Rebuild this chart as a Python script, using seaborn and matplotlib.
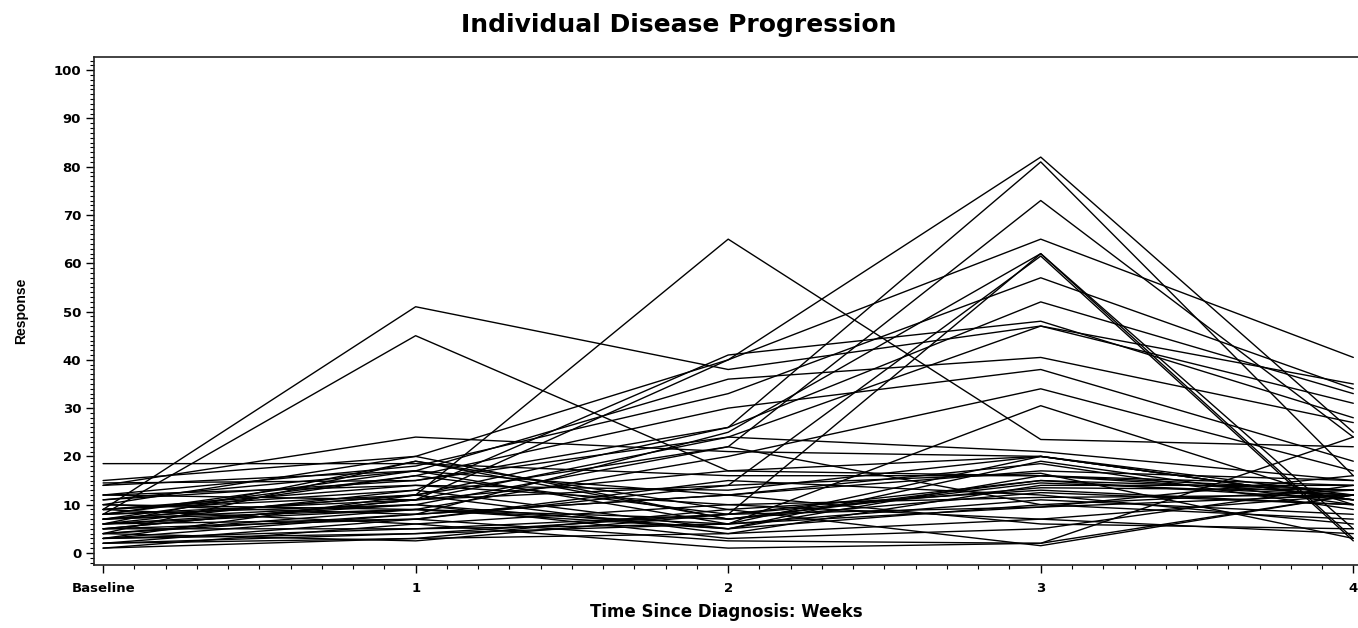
import numpy as np
import pandas as pd
import matplotlib
matplotlib.use("Agg")
import matplotlib.pyplot as plt
import seaborn as sns
from matplotlib.ticker import MultipleLocator

weeks = [0, 1, 2, 3, 4]
week_labels = ["Baseline", "1", "2", "3", "4"]

s01 = [18.5, 18.5, 16, 16, 14]
s02 = [9, 51, 38, 47, 35]
s03 = [8, 45, 17, 20, 12]
s04 = [7, 12, 65, 23.5, 22]
s05 = [5, 11, 40, 82, 25]
s06 = [3, 12, 26, 81, 16]
s07 = [6, 10, 22, 73, 24]
s08 = [10, 20, 40, 65, 40.5]
s09 = [4, 8, 25, 62, 3]
s10 = [2, 7, 14, 61.5, 2.5]
s11 = [12, 18, 33, 57, 34]
s12 = [14.5, 15, 26, 52, 33]
s13 = [9, 13, 41, 48, 28]
s14 = [8, 11, 24, 47, 31]
s15 = [11, 17, 36, 40.5, 27]
s16 = [7, 16, 30, 38, 19]
s17 = [6, 9, 20, 34, 17]
s18 = [5, 5, 6, 30.5, 10]
s19 = [14, 24, 21, 20, 11]
s20 = [3, 4, 8, 62, 5]
s21 = [1, 6, 1, 2, 24]
s22 = [2, 3, 9, 1.5, 12]
s23 = [4, 19, 7, 15, 13]
s24 = [8, 10, 5, 16, 12]
s25 = [9, 14, 13, 20, 11]
s26 = [10, 8, 12, 18.5, 9]
s27 = [7, 12, 4, 14, 14]
s28 = [6, 19, 9, 13, 10]
s29 = [5, 7, 15, 12, 6]
s30 = [3, 5, 8, 9.5, 12]
s31 = [4, 9, 6, 11, 8]
s32 = [11, 15, 24, 21, 15]
s33 = [12, 11, 17, 16, 13]
s34 = [9, 6, 10, 7, 4]
s35 = [8, 16, 8, 15, 11]
s36 = [7, 10, 3, 5, 14]
s37 = [6, 13, 5, 10, 13]
s38 = [10, 9, 7, 14.5, 12]
s39 = [14, 17, 12, 17, 15]
s40 = [15, 20, 7, 12.5, 10]
s41 = [2, 4, 6, 9.5, 16]
s42 = [5, 11, 14, 16.5, 3]
s43 = [3, 8, 12, 6, 5]
s44 = [1, 3, 4, 7, 12]
s45 = [8, 17, 6, 20, 11]
s46 = [9, 12, 22, 10, 7]
s47 = [6, 7, 2.5, 2, 12]
s48 = [4, 2.5, 8, 13.5, 13]
s49 = [12, 14, 10, 11.5, 12]
s50 = [7, 9, 5, 19, 10]

subjects = [s01, s02, s03, s04, s05, s06, s07, s08, s09, s10,
            s11, s12, s13, s14, s15, s16, s17, s18, s19, s20,
            s21, s22, s23, s24, s25, s26, s27, s28, s29, s30,
            s31, s32, s33, s34, s35, s36, s37, s38, s39, s40,
            s41, s42, s43, s44, s45, s46, s47, s48, s49, s50]

rows = []
for i, vals in enumerate(subjects):
    for w, v in zip(weeks, vals):
        rows.append({"subject": i, "week": w, "response": v})
df = pd.DataFrame(rows)

sns.set_theme(style="ticks")
plt.rcParams['font.family'] = ['Liberation Sans', 'DejaVu Sans']
plt.rcParams['text.color'] = 'black'
plt.rcParams['axes.labelcolor'] = 'black'
plt.rcParams['xtick.color'] = 'black'
plt.rcParams['ytick.color'] = 'black'

fig = plt.figure(figsize=(13.58, 6.28), dpi=100)
ax = fig.add_axes([0.069, 0.1003, 0.931, 0.8087])

sns.lineplot(data=df, x="week", y="response", units="subject", estimator=None,
             color="black", linewidth=1.0, ax=ax, legend=False)

ax.set_xlim(-0.03, 4.015)
ax.set_ylim(-2.5, 102.7)
ax.set_xticks(weeks)
ax.set_xticklabels(week_labels)
ax.set_yticks(np.arange(0, 101, 10))
ax.xaxis.set_minor_locator(MultipleLocator(0.1))
ax.yaxis.set_minor_locator(MultipleLocator(1))
ax.tick_params(axis="x", which="major", length=6, width=1, labelsize=9.5, direction="out", pad=6)
ax.tick_params(axis="y", which="major", length=6, width=1, labelsize=9.5, direction="out", pad=3)
ax.tick_params(axis="both", which="minor", length=3, width=0.8, direction="out")
for lab in ax.get_xticklabels() + ax.get_yticklabels():
    lab.set_fontweight("bold")
    lab.set_family(["DejaVu Sans"])

for side in ["left", "bottom", "top"]:
    ax.spines[side].set_visible(True)
    ax.spines[side].set_linewidth(1.2)
    ax.spines[side].set_color("#222222")
ax.spines["right"].set_visible(False)

ax.set_xlabel("Time Since Diagnosis: Weeks", fontsize=12, fontweight="bold", labelpad=6,
              family=["DejaVu Sans"])
ax.set_ylabel("Response", fontsize=10, fontweight="bold", labelpad=18)
fig.text(0.5, 0.96, "Individual Disease Progression", fontsize=18, fontweight="bold",
         ha="center", va="center", family=["DejaVu Sans"])

fig.savefig("out.png", dpi=100)
